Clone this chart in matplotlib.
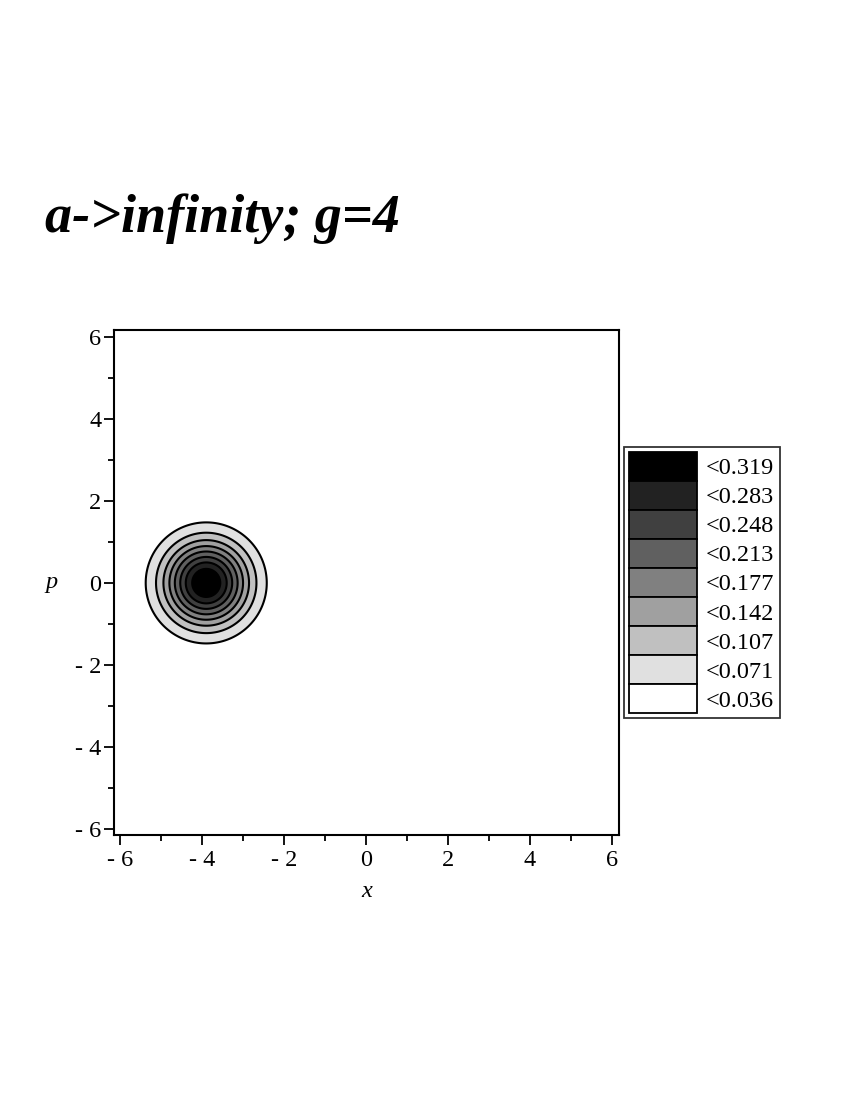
import numpy as np
import matplotlib
matplotlib.use("Agg")
import matplotlib.pyplot as plt
from matplotlib.patches import Patch

# ---- data ----
title = "a->infinity; g=4"
peak_value = 0.3183          # maximum of the surface (≈ 1/pi)
center_x = -3.9              # centre of the peak along x
center_p = 0.0               # centre of the peak along p
level_values = [0.036, 0.071, 0.107, 0.142, 0.177, 0.213, 0.248, 0.283, 0.319]
level_grays = [255, 224, 192, 160, 128, 96, 64, 34, 0]   # fill for "<level"
tick_values = [-6, -4, -2, 0, 2, 4, 6]
tick_labels = ["- 6", "- 4", "- 2", "0", "2", "4", "6"]
minor_ticks = [-5, -3, -1, 1, 3, 5]
xlim = (-6.15, 6.17)
ylim = (-6.15, 6.17)

serif = ["Liberation Serif", "DejaVu Serif"]
plt.rcParams['font.family'] = serif
FS = 17.5

fig = plt.figure(figsize=(8.5, 11), dpi=100)
ax = fig.add_axes([114/850, 1-835/1100, (619-114)/850, (835-330)/1100])

# surface
xs = np.linspace(xlim[0], xlim[1], 400)
ps = np.linspace(ylim[0], ylim[1], 400)
X, P = np.meshgrid(xs, ps)
Z = peak_value * np.exp(-((X - center_x) ** 2 + (P - center_p) ** 2))

bounds = [0.0] + level_values[:-1] + [1.0]
fill_colors = [str(g/255) for g in level_grays]
ax.contourf(X, P, Z, levels=bounds, colors=fill_colors)
ax.contour(X, P, Z, levels=level_values[:-1], colors="black", linewidths=1.5)

ax.set_xlim(*xlim)
ax.set_ylim(*ylim)
ax.set_xticks(tick_values)
ax.set_xticklabels(tick_labels)
ax.set_yticks(tick_values)
ax.set_yticklabels(tick_labels)
ax.set_xticks(minor_ticks, minor=True)
ax.set_yticks(minor_ticks, minor=True)
ax.tick_params(which="major", direction="out", length=7, width=1.3, labelsize=FS,
               top=False, right=False, pad=4)
ax.tick_params(axis="y", which="major", pad=2)
ax.tick_params(which="minor", direction="out", length=4, width=1.3, top=False, right=False)
for s in ax.spines.values():
    s.set_linewidth(1.5)

ax.set_xlabel("x", fontsize=FS, style="italic", labelpad=7)
ax.set_ylabel("p", fontsize=FS, style="italic", rotation=0, labelpad=17, va="center")

# legend
handles = [Patch(facecolor=str(g/255), edgecolor="black", linewidth=1.3)
           for g in level_grays[::-1]]
labels = ["<%.3f" % v for v in level_values[::-1]]
leg = ax.legend(handles, labels, loc="upper left",
                bbox_to_anchor=(624/850, 1-447/1100), bbox_transform=fig.transFigure,
                borderaxespad=0, fontsize=FS, handlelength=2.8, handleheight=1.46,
                labelspacing=0.0, handletextpad=0.38, borderpad=0.2,
                frameon=True, fancybox=False, edgecolor="black")
leg.get_frame().set_linewidth(1.3)

fig.text(45/850, 1-232/1100, title, fontsize=39, fontweight="bold", style="italic",
         family=serif, va="baseline", ha="left")

fig.savefig("out.png", dpi=100, facecolor="white")
